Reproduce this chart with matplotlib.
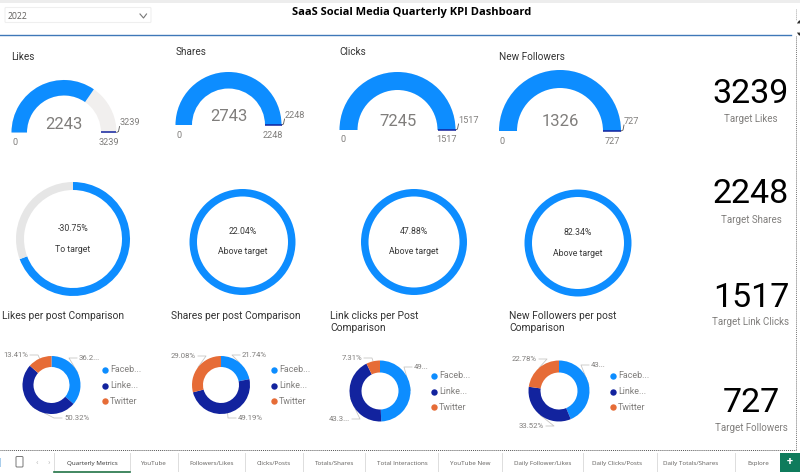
import matplotlib
matplotlib.use("Agg")
import matplotlib.pyplot as plt
from matplotlib.patches import Wedge, Rectangle, FancyBboxPatch
import numpy as np

W, H = 800, 474
BLUE, NAVY, ORANGE = "#0D8DFF", "#12239E", "#E66C37"
GAUGE_BG, RING_BG, GRAY, DARK = "#F1EFEE", "#E6E6E6", "#807E7C", "#3A3A3A"
LABEL_FONT = ["Roboto", "DejaVu Sans"]

# ---------- data ----------
year = "2022"
title = "SaaS Social Media Quarterly KPI Dashboard"
gauge_titles = ["Likes", "Shares", "Clicks", "New Followers"]
gauge_values = [2243, 2743, 7245, 1326]
gauge_targets = [3239, 2248, 1517, 727]
ring_pcts = [-30.75, 22.04, 47.88, 82.34]
ring_texts = ["To target", "Above target", "Above target", "Above target"]
card_values = ["3239", "2248", "1517", "727"]
card_labels = ["Target Likes", "Target Shares", "Target Link Clicks", "Target Followers"]
donut_titles = ["Likes per post Comparison", "Shares per post Comparison",
                "Link clicks per Post\nComparison", "New Followers per post\nComparison"]
facebook = [36.27, 21.74, 49.36, 43.70]
linkedin = [50.32, 49.19, 43.33, 33.52]
twitter = [13.41, 29.08, 7.31, 22.78]
donut_labels = [["36.2...", "50.32%", "13.41%"], ["21.74%", "49.19%", "29.08%"],
                ["49...", "43.3...", "7.31%"], ["43...", "33.52%", "22.78%"]]
legend_names = ["Faceb...", "Linke...", "Twitter"]
tabs = ["Quarterly Metrics", "YouTube", "Followers/Likes", "Clicks/Posts", "Totals/Shares",
        "Total Interactions", "YouTube New", "Daily Follower/Likes", "Daily Clicks/Posts",
        "Daily Totals/Shares", "Explore"]

# ---------- layout (pixels) ----------
gauge_geo = [(64, 132.5, 52.5, 37), (228.5, 125, 53, 36.5), (397.5, 130, 58, 40), (560, 131, 61, 43)]
gauge_title_xy = [(11.5, 57), (176, 52), (339.5, 52), (499, 57)]
gauge_num_y = [124, 116, 121, 121]
ring_geo = [(73, 239, 57, 8), (242.5, 242, 53, 7.5), (414, 242, 53, 7.5), (578, 243, 53.5, 7.5)]
donut_geo = [(51.5, 385, 29, 18), (221, 385, 29, 18), (380, 391, 30.5, 18.5), (559, 391, 30.5, 18.5)]
donut_title_xy = [(2, 316), (171, 316), (330, 316), (509, 316)]
legend_x = [105, 274, 434, 613]
legend_y0 = [370, 370, 376, 376]
# label anchor: (edge x, y, ha)
label_xy = [[(79, 358, "left"), (64, 418, "left"), (28, 355, "right")],
            [(242, 355, "left"), (238, 418, "left"), (196, 356, "right")],
            [(414, 367, "left"), (350, 419, "right"), (362, 358, "right")],
            [(591, 365, "left"), (544, 426, "right"), (537, 359, "right")]]
card_y = [(94, 119), (194, 220), (298, 322), (403, 428)]
tab_centers = [92, 154, 212, 274, 335, 402, 470, 543, 617, 691, 758]
tab_dividers = [54, 130, 178, 245, 303, 365, 438, 502, 583, 657, 735]

fig = plt.figure(figsize=(W / 100, H / 100), dpi=100, facecolor="white")
bg = fig.add_axes([0, 0, 1, 1])
bg.set_xlim(0, W)
bg.set_ylim(H, 0)
bg.axis("off")


def sub_axes(cx, cy, r):
    ax = fig.add_axes([(cx - r) / W, 1 - (cy + r) / H, 2 * r / W, 2 * r / H])
    ax.set_xlim(-r, r)
    ax.set_ylim(-r, r)
    ax.axis("off")
    return ax


def txt(x, y, s, size=7, color=GRAY, ha="left", va="center", family=LABEL_FONT, **kw):
    return bg.text(x, y, s, fontsize=size, color=color, ha=ha, va=va, family=family, **kw)


# ---------- header ----------
bg.add_patch(Rectangle((0, 0), W, 2.5, color="#EDEDED", lw=0))
bg.add_patch(FancyBboxPatch((5, 7.5), 146, 15, boxstyle="round,pad=0,rounding_size=1", fc="white", ec="#EFEFEF", lw=0.8))
txt(8, 16.5, year, size=6.2, color="#605E5C", family=["Open Sans"])
bg.plot([140, 143.5, 146.5], [14, 18, 14], color="#777777", lw=0.8)
txt(411.5, 12, title, size=8.0, color="black", ha="center", family=["Open Sans"], fontweight="bold")
bg.plot([0, 790.5], [35, 35], color="#3F78B8", lw=1)
bg.plot([798, 799.5, 800], [23, 21, 23], color="#222222", lw=0.9)
bg.plot([798, 799.5, 800], [33, 35, 33], color="#222222", lw=0.9)

# ---------- gauges ----------
for i, (cx, cy, R, r) in enumerate(gauge_geo):
    val, tgt = gauge_values[i], gauge_targets[i]
    ax = sub_axes(cx, cy, R + 1)
    ang = 180 * (1 - min(val / tgt, 1))
    ax.add_patch(Wedge((0, 0), R, 0, 180, width=R - r, fc=GAUGE_BG, lw=0))
    ax.add_patch(Wedge((0, 0), R, ang, 180, width=R - r, fc=BLUE, lw=0))
    ax.plot([r, R], [0.4, 0.4], color=NAVY, lw=1.1, solid_capstyle="butt", clip_on=False)
    txt(*gauge_title_xy[i], gauge_titles[i], size=7.2, color="#333333")
    txt(cx, gauge_num_y[i], str(val), size=12, ha="center")
    txt(cx - R + 1, cy + 10, "0", size=6.6)
    txt(cx + (R + r) / 2, cy + 10, str(tgt), size=6.6, ha="center")
    bg.plot([cx + R, cx + R + 2, cx + R + 3], [cy, cy - 1, cy - 6], color="#555555", lw=0.6)
    txt(cx + R + 3, cy - 10, str(tgt), size=6.6)

# ---------- rings ----------
for i, (cx, cy, R, w) in enumerate(ring_geo):
    val, tgt = gauge_values[i], gauge_targets[i]
    frac = min(val / tgt, 1)
    ax = sub_axes(cx, cy, R + 1)
    ax.pie([frac, 1 - frac], radius=R, startangle=90, counterclock=False, colors=[BLUE, RING_BG],
           wedgeprops=dict(width=w, lw=0))
    ax.set_xlim(-R - 1, R + 1)
    ax.set_ylim(-R - 1, R + 1)
    txt(cx, cy - 10.5, f"{ring_pcts[i]:.2f}%", size=6.3, color=DARK, ha="center")
    txt(cx, cy + 10, ring_texts[i], size=6.3, color=DARK, ha="center")

# ---------- cards ----------
for (ny, ly), v, l in zip(card_y, card_values, card_labels):
    txt(751, ny, v, size=24.5, color="black", ha="center")
    txt(751, ly, l, size=7, ha="center")

# ---------- donuts ----------
for i, (cx, cy, R, r) in enumerate(donut_geo):
    ax = sub_axes(cx, cy, R + 1)
    vals = [facebook[i], linkedin[i], twitter[i]]
    wedges, _ = ax.pie(vals, radius=R, startangle=90, counterclock=False,
                       colors=[BLUE, NAVY, ORANGE], wedgeprops=dict(width=R - r, lw=0))
    ax.set_xlim(-R - 1, R + 1)
    ax.set_ylim(-R - 1, R + 1)
    tx, ty = donut_title_xy[i]
    for j, line in enumerate(donut_titles[i].split("\n")):
        txt(tx, ty + 12 * j, line, size=7.4, color="#333333")
    for w_, lab, (lx, ly, ha) in zip(wedges, donut_labels[i], label_xy[i]):
        mid = np.deg2rad((w_.theta1 + w_.theta2) / 2)
        px, py = cx + R * np.cos(mid), cy - R * np.sin(mid)
        sgn = -1 if ha == "left" else 1
        edge = lx + 2 * sgn
        elbow = lx + 10 * sgn
        bg.plot([px, elbow, edge], [py, ly, ly], color="#C8C6C4", lw=0.6)
        txt(lx, ly, lab, size=5.6, ha=ha)
    for k, (name, col) in enumerate(zip(legend_names, [BLUE, NAVY, ORANGE])):
        y = legend_y0[i] + k * 15.7
        bg.plot([legend_x[i]], [y], "o", ms=4.6, color=col, mew=0)
        txt(legend_x[i] + 5, y, name, size=6.4)

# ---------- page tabs ----------
bg.plot([0, 795.5], [449.5, 449.5], color="#555555", lw=0.7, ls=(0, (1, 1)))
bg.plot([795.5, 795.5], [36, 449.5], color="#777777", lw=0.7, ls=(0, (1, 1)))
bg.plot([795.5, 795.5], [9, 20], color="#AAAAAA", lw=0.7, ls=(0, (1, 1)))
bg.add_patch(FancyBboxPatch((16, 456.5), 7, 10.5, boxstyle="round,pad=0,rounding_size=1", fc="white", ec="#777777", lw=0.7))
bg.add_patch(Rectangle((0, 458), 1, 9, color="#A9CDEB", lw=0))
txt(37, 463.5, "‹", size=6, color="#BBBBBB", ha="center")
txt(49, 463.5, "›", size=6, color="#BBBBBB", ha="center")
for name, x in zip(tabs, tab_centers):
    txt(x, 463.5, name, size=4.5, color="#333333" if x == 92 else "#605E5C", ha="center", family=["Open Sans"])
for x in tab_dividers:
    bg.plot([x, x], [453, 471], color="#DDDDDD", lw=0.7)
bg.plot([54, 130], [471.5, 471.5], color="#217346", lw=1.2)
bg.add_patch(Rectangle((780, 453), 20, 19, color="#0F7B5C", lw=0))
txt(790, 462.5, "+", size=8, color="white", ha="center", fontweight="bold")

fig.savefig("out.png", dpi=100, facecolor="white")
